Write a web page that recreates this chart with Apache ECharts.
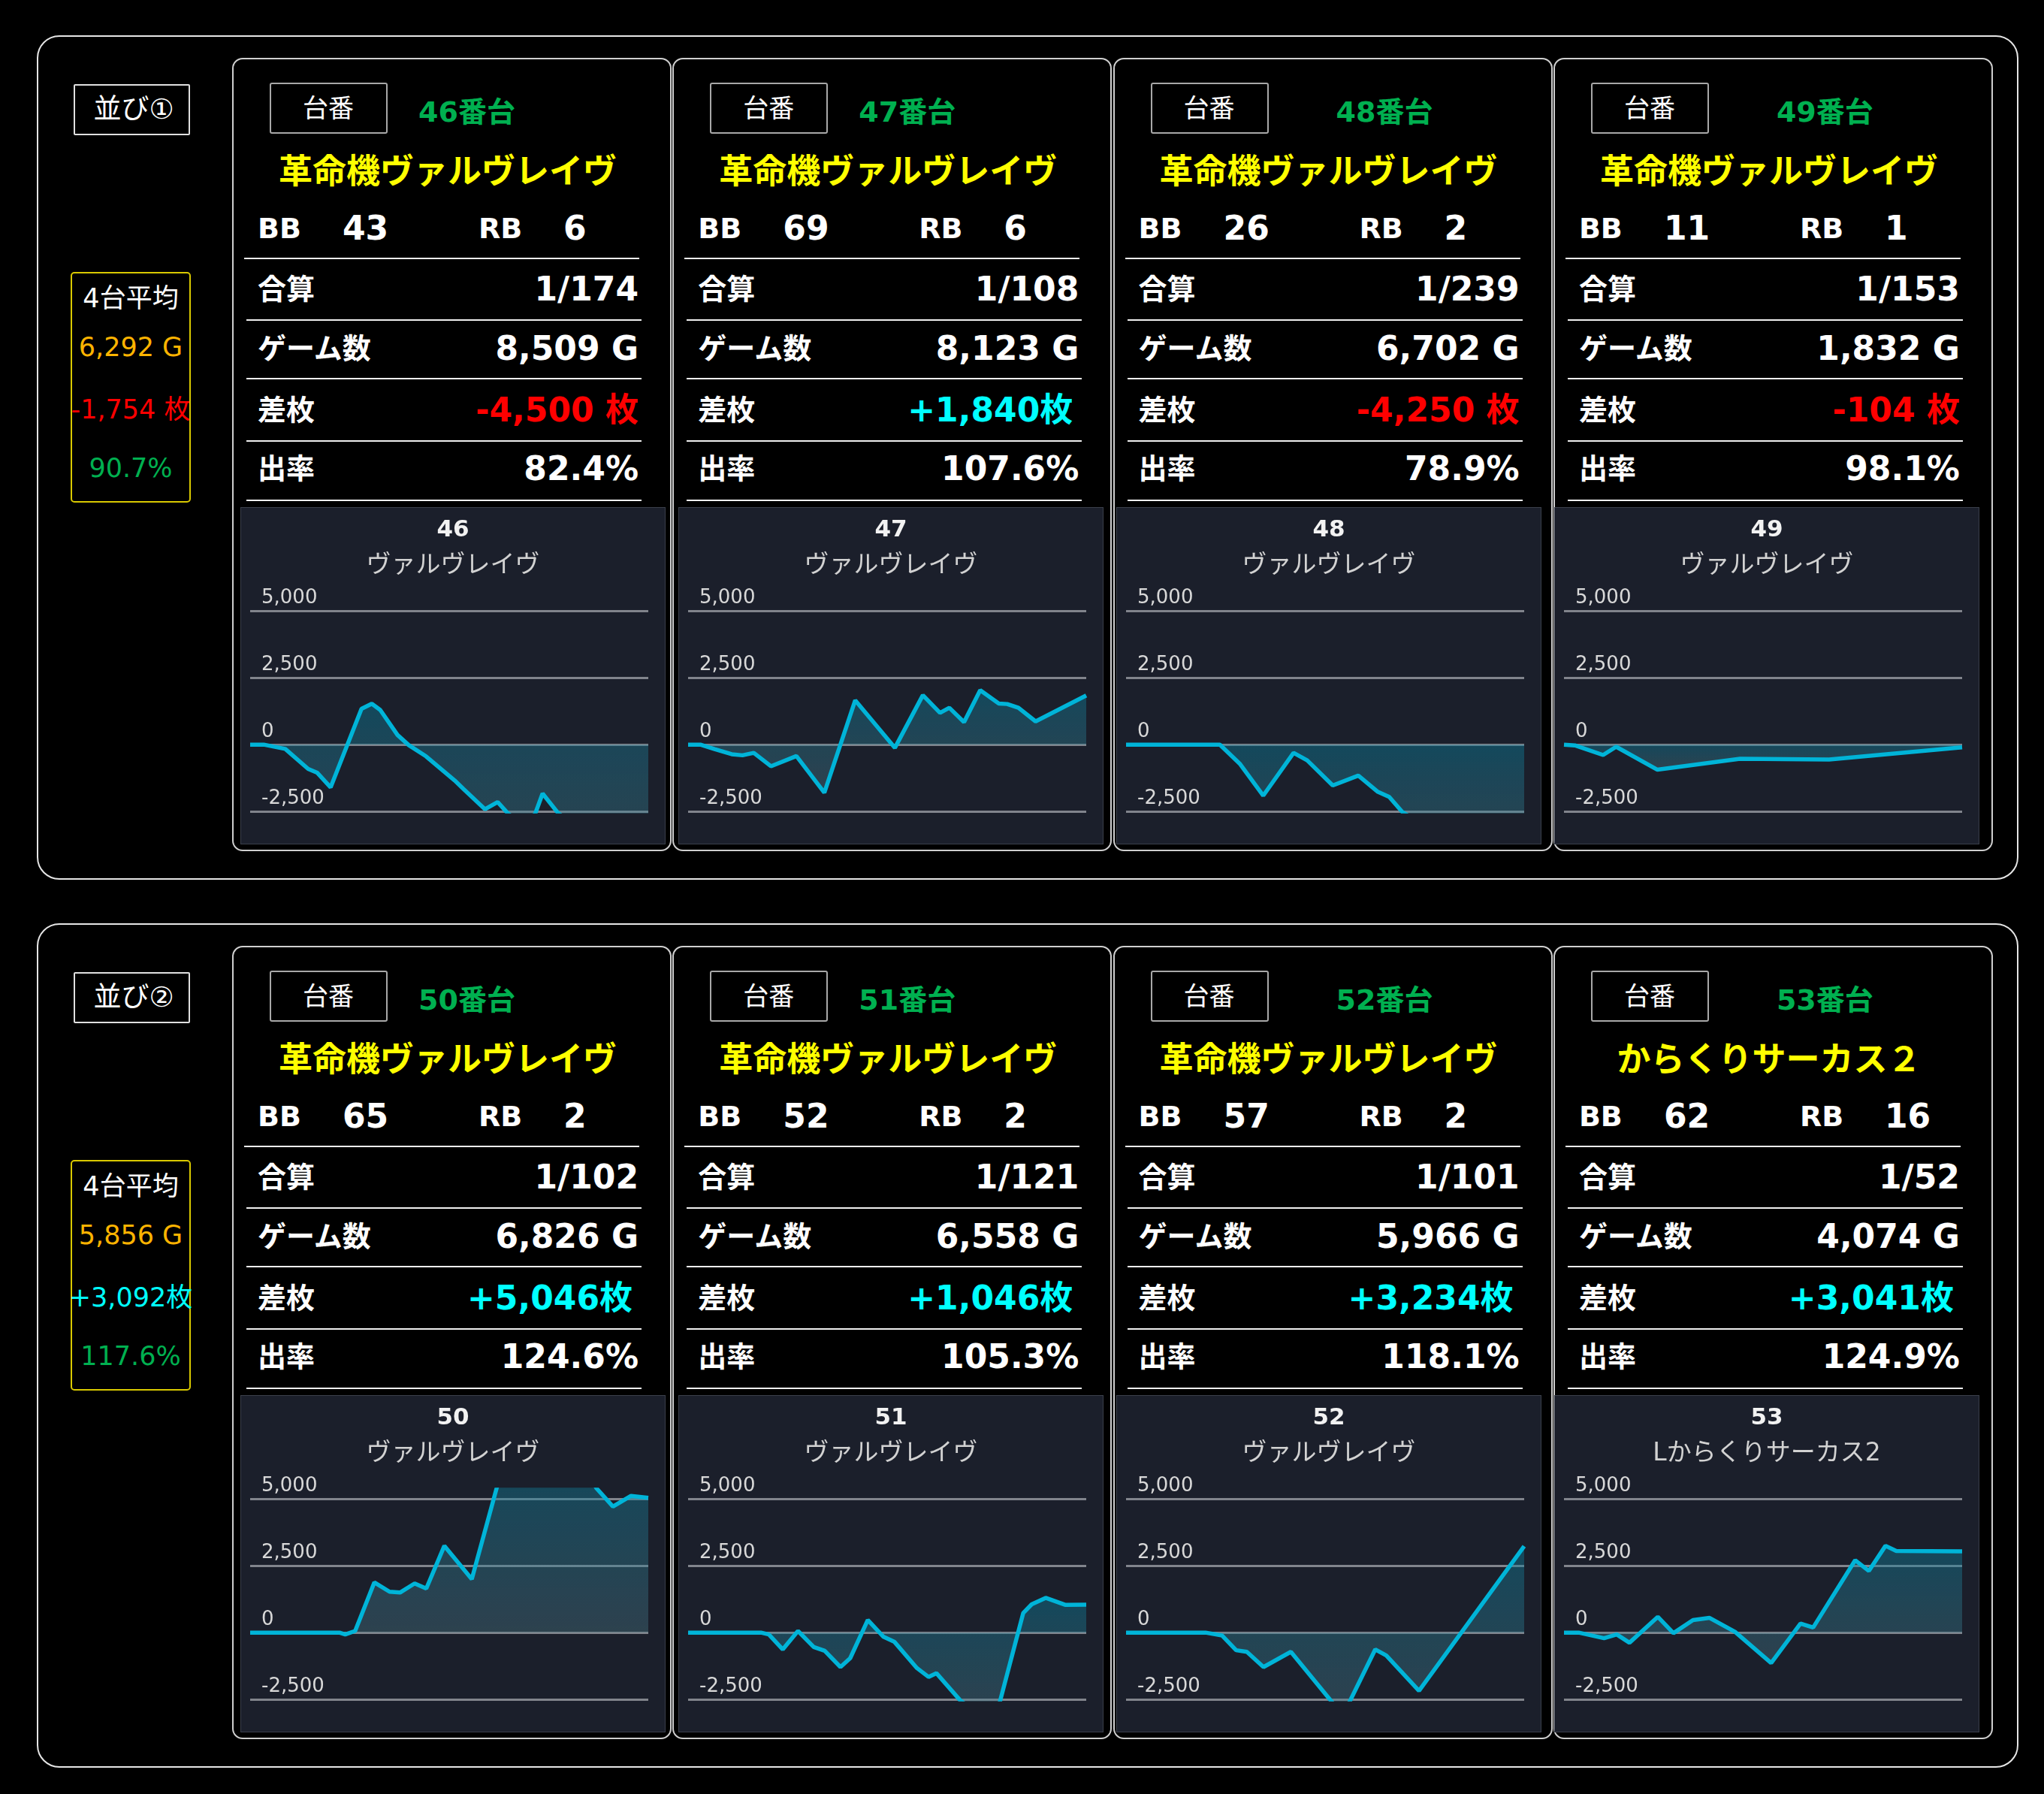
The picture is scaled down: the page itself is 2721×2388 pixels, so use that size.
<!DOCTYPE html>
<html>
<head>
<meta charset="utf-8">
<title>スランプグラフ</title>
<script src="https://cdn.jsdelivr.net/npm/echarts@6/dist/echarts.min.js"></script>
<style>
html, body { margin: 0; padding: 0; background: #000; }
body {
    width: 2721px; height: 2388px; position: relative; overflow: hidden;
    font-family: "DejaVu Sans", "Noto Sans CJK JP", sans-serif; color: #fff;
}
.box { position: absolute; }
.frame { position: absolute; left: 0; top: 0; right: 0; bottom: 0; box-sizing: border-box; }
.t { position: absolute; height: 60px; line-height: 60px; white-space: nowrap; }
.rule { position: absolute; height: 2px; background: #f0f0f0; }
.chart { position: absolute; background: #1b1f2b; outline: 1px solid #3a3f4a; }
</style>
</head>
<body>
<script>
// 台ごとのデータ
var unitNos = [46, 47, 48, 49, 50, 51, 52, 53];
var machineNames = ['革命機ヴァルヴレイヴ', '革命機ヴァルヴレイヴ', '革命機ヴァルヴレイヴ', '革命機ヴァルヴレイヴ',
    '革命機ヴァルヴレイヴ', '革命機ヴァルヴレイヴ', '革命機ヴァルヴレイヴ', 'からくりサーカス２'];
var chartNames = ['ヴァルヴレイヴ', 'ヴァルヴレイヴ', 'ヴァルヴレイヴ', 'ヴァルヴレイヴ',
    'ヴァルヴレイヴ', 'ヴァルヴレイヴ', 'ヴァルヴレイヴ', 'Lからくりサーカス2'];
var bbCounts = [43, 69, 26, 11, 65, 52, 57, 62];
var rbCounts = [6, 6, 2, 1, 2, 2, 2, 16];
var combinedOdds = ['1/174', '1/108', '1/239', '1/153', '1/102', '1/121', '1/101', '1/52'];
var gameCounts = [8509, 8123, 6702, 1832, 6826, 6558, 5966, 4074];
var medalDiffs = [-4500, 1840, -4250, -104, 5046, 1046, 3234, 3041];
var payoutRates = ['82.4%', '107.6%', '78.9%', '98.1%', '124.6%', '105.3%', '118.1%', '124.9%'];
var rowLabels = ['合算', 'ゲーム数', '差枚', '出率'];

// 並びごとの平均
var groupNames = ['並び①', '並び②'];
var avgGames = [6292, 5856];
var avgDiffs = [-1754, 3092];
var avgRates = ['90.7%', '117.6%'];

// スランプ [ゲーム数, 差枚]
var slump46 = [[0, 0], [290, 0], [750, -160], [1240, -910], [1430, -1050], [1720, -1600], [2380, 1340],
    [2600, 1530], [2780, 1300], [3150, 360], [3390, -20], [3760, -440], [4370, -1340], [4560, -1660],
    [5020, -2420], [5290, -2150], [5500, -2560], [5800, -3000], [6090, -2600], [6250, -1830],
    [6580, -2560], [7130, -3300], [7930, -4100], [8509, -4500]];
var slump47 = [[0, 0], [250, 0], [540, -170], [890, -360], [1110, -400], [1340, -310], [1690, -810],
    [2210, -430], [2780, -1800], [3410, 1660], [4220, -120], [4790, 1850], [5140, 1190], [5330, 1380],
    [5630, 840], [5960, 2040], [6340, 1540], [6510, 1520], [6740, 1380], [7090, 870], [8123, 1840]];
var slump48 = [[0, 0], [1580, 0], [1920, -730], [2310, -1910], [2820, -310], [3050, -590], [3480, -1530],
    [3910, -1160], [4240, -1770], [4430, -1960], [4650, -2520], [5200, -3300], [5900, -3900], [6702, -4250]];
var slump49 = [[0, 0], [50, -30], [180, -390], [240, -80], [430, -940], [810, -530], [1220, -560], [1832, -104]];
var slump50 = [[0, 0], [1530, 0], [1630, -70], [1800, 60], [2130, 1880], [2390, 1530], [2570, 1500],
    [2820, 1840], [3020, 1650], [3330, 3250], [3800, 2000], [4250, 5600], [4700, 6100], [5300, 6200],
    [5800, 5900], [5940, 5400], [6220, 4720], [6530, 5120], [6826, 5046]];
var slump51 = [[0, 0], [1200, 0], [1330, -70], [1560, -630], [1810, 60], [2070, -540], [2250, -680],
    [2510, -1290], [2670, -960], [2960, 470], [3220, -160], [3400, -350], [3770, -1330], [3960, -1660],
    [4090, -1520], [4480, -2530], [4800, -3100], [5100, -2900], [5520, 730], [5660, 1060], [5890, 1300],
    [6210, 1040], [6558, 1046]];
var slump52 = [[0, 0], [1190, 0], [1440, -110], [1650, -660], [1810, -720], [2060, -1290], [2470, -720],
    [3250, -3100], [3735, -630], [3900, -860], [4390, -2180], [5966, 3234]];
var slump53 = [[0, 0], [150, 0], [410, -210], [540, -70], [670, -380], [960, 590], [1120, -20], [1320, 470],
    [1490, 550], [1750, 30], [2120, -1140], [2420, 340], [2550, 190], [2980, 2710], [3120, 2310],
    [3290, 3250], [3400, 3060], [4074, 3041]];
var slumps = [slump46, slump47, slump48, slump49, slump50, slump51, slump52, slump53];

// 縦軸
var yMin = -2500;
var yMax = 5350;
var yStep = 2500;

var FONT = '"DejaVu Sans", "Noto Sans CJK JP", sans-serif';
var ROW_OFFSET = 1182;

function comma(v) {
    return Math.abs(v).toLocaleString('en-US');
}
function diffText(v) {
    return v < 0 ? '-' + comma(v) + ' 枚' : '+' + comma(v) + '枚';
}
function diffColor(v) {
    return v < 0 ? '#ff0000' : '#00ffff';
}

function el(parent, cls, css, text) {
    var d = document.createElement('div');
    d.className = cls;
    for (var k in css) d.style[k] = css[k];
    if (text !== undefined) d.textContent = text;
    parent.appendChild(d);
    return d;
}
function frame(parent, css) {
    return el(parent, 'frame', css);
}
// 左寄せ
function textL(parent, s, x, cy, size, color, weight) {
    return el(parent, 't', { left: x + 'px', top: (cy - 30) + 'px', fontSize: size + 'px', color: color,
        fontWeight: weight || 'normal' }, s);
}
// 右寄せ
function textR(parent, s, right, cy, size, color, weight) {
    return el(parent, 't', { right: right + 'px', top: (cy - 30) + 'px', fontSize: size + 'px', color: color,
        fontWeight: weight || 'normal' }, s);
}
// 中央
function textC(parent, s, cx, cy, size, color, weight) {
    return el(parent, 't', { left: (cx - 300) + 'px', width: '600px', textAlign: 'center', top: (cy - 30) + 'px',
        fontSize: size + 'px', color: color, fontWeight: weight || 'normal' }, s);
}

function slumpOption(i) {
    return {
        animation: false,
        title: {
            text: String(unitNos[i]),
            subtext: chartNames[i],
            left: 'center',
            top: 14,
            padding: 0,
            itemGap: 16,
            textStyle: { color: '#f2f2f2', fontSize: 31, fontWeight: 'bold', fontFamily: FONT },
            subtextStyle: { color: '#d2d2d2', fontSize: 33, fontFamily: FONT }
        },
        grid: { left: 12, right: 22, top: 125, bottom: 43 },
        xAxis: { type: 'value', min: 0, max: gameCounts[i], show: false },
        yAxis: {
            type: 'value',
            min: yMin,
            max: yMax,
            interval: yStep,
            axisLine: { show: false },
            axisTick: { show: false },
            axisLabel: {
                inside: true,
                margin: 15,
                color: '#d8d8d8',
                fontSize: 26,
                fontFamily: FONT,
                verticalAlign: 'bottom',
                padding: [0, 0, 4, 0],
                showMaxLabel: false,
                formatter: function(v) { return v.toLocaleString('en-US'); }
            },
            splitLine: { showMaxLine: false, lineStyle: { color: '#81848c', width: 3 } }
        },
        series: [{
            type: 'line',
            data: slumps[i],
            symbol: 'none',
            lineStyle: { color: '#00b4d8', width: 5.5 },
            areaStyle: {
                color: new echarts.graphic.LinearGradient(0, 0, 0, 1, [
                    { offset: 0, color: 'rgba(10,130,160,0.6)' },
                    { offset: 1, color: 'rgba(80,130,145,0.5)' }
                ])
            }
        }]
    };
}

var body = document.body;

for (var r = 0; r < 2; r++) {
    var oy = r * ROW_OFFSET;

    // 外枠
    var outer = el(body, 'box', { left: '49px', top: (47 + oy) + 'px', width: '2638px', height: '1124px' });
    frame(outer, { border: '2px solid #e6e6e6', borderRadius: '30px' });

    // 並び
    var grp = el(body, 'box', { left: '98px', top: (112 + oy) + 'px', width: '155px', height: '68px' });
    frame(grp, { border: '2px solid #e0e0e0', borderRadius: '2px' });
    textC(grp, groupNames[r], 80, 34, 37, '#ffffff');

    // 4台平均
    var avg = el(body, 'box', { left: '94px', top: (362 + oy) + 'px', width: '160px', height: '307px' });
    frame(avg, { border: '2px solid #d9c900', borderRadius: '5px' });
    textC(avg, '4台平均', 80, 35, 35, '#ffffff');
    textC(avg, comma(avgGames[r]) + ' G', 80, 100, 35, '#ffb400');
    textC(avg, diffText(avgDiffs[r]), 80, 183, 35, diffColor(avgDiffs[r]));
    textC(avg, avgRates[r], 80, 261, 35, '#00b050');

    for (var c = 0; c < 4; c++) {
        var i = r * 4 + c;
        var card = el(body, 'box', { left: (309 + c * 586.3) + 'px', top: (77 + oy) + 'px', width: '585px', height: '1056px' });
        frame(card, { border: '2px solid #cfcfcf', borderRadius: '14px' });

        // 台番
        var tag = el(card, 'box', { left: '50px', top: '33px', width: '157px', height: '68px' });
        frame(tag, { border: '2px solid #a8a8a8', borderRadius: '3px' });
        textC(tag, '台番', 78, 34, 34, '#ffffff');
        textL(card, unitNos[i] + '番台', c < 2 ? 248 : 297, 72, 38, '#00b050', 'bold');

        // 機種名
        textC(card, machineNames[i], 287, 152, 45, '#ffff00', 'bold');

        // BB / RB
        textL(card, 'BB', 34, 227, 38, '#ffffff', 'bold');
        textL(card, String(bbCounts[i]), 147, 227, 44, '#ffffff', 'bold');
        textL(card, 'RB', 328, 227, 38, '#ffffff', 'bold');
        textL(card, String(rbCounts[i]), 441, 227, 44, '#ffffff', 'bold');

        // 罫線
        var rules = [267, 349, 427, 510, 589];
        for (var k = 0; k < rules.length; k++) {
            var x0 = k === 0 ? 16 : 19;
            var x1 = k === 0 ? 542 : 545;
            el(card, 'rule', { left: x0 + 'px', width: (x1 - x0) + 'px', top: (rules[k] - 1) + 'px' });
        }

        // 表
        var rowY = [308, 387, 469, 547];
        var values = [combinedOdds[i], comma(gameCounts[i]) + ' G', diffText(medalDiffs[i]), payoutRates[i]];
        for (var k = 0; k < 4; k++) {
            textL(card, rowLabels[k], 34, rowY[k], 38, '#ffffff', 'bold');
            var isDiff = k === 2;
            var right = isDiff && medalDiffs[i] >= 0 ? 52 : 44;
            textR(card, values[k], right, rowY[k], 44, isDiff ? diffColor(medalDiffs[i]) : '#ffffff', 'bold');
        }

        // スランプグラフ
        var box = el(body, 'chart', { left: (321 + c * 583) + 'px', top: (676 + oy) + 'px', width: '564px', height: '447px' });
        var myChart = echarts.init(box);
        myChart.setOption(slumpOption(i));
    }
}
</script>
</body>
</html>
